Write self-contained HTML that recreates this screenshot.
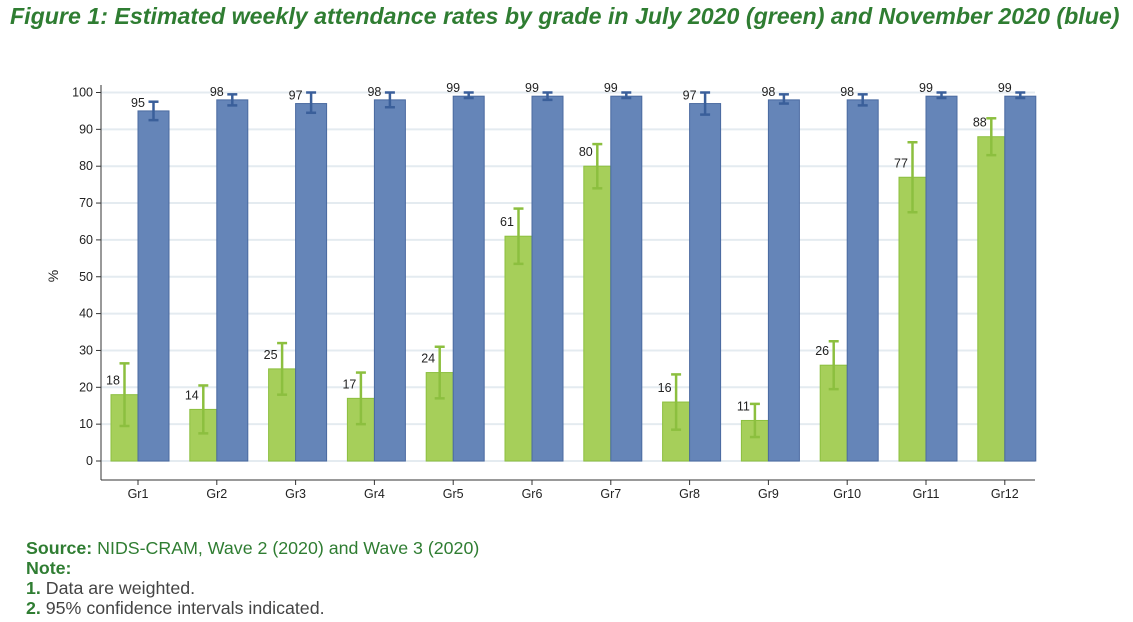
<!DOCTYPE html>
<html><head><meta charset="utf-8"><style>
body{margin:0;background:#fff;font-family:"Liberation Sans",sans-serif;}
#wrap{position:relative;width:1133px;height:622px;overflow:hidden;}
h1{position:absolute;left:10px;top:3px;margin:0;font-size:23.2px;font-style:italic;font-weight:bold;color:#2f7d32;white-space:nowrap;}
.notes{position:absolute;left:26px;top:538px;font-size:17.8px;color:#444;line-height:20px;}
.notes b{color:#2f7d32;}
</style></head><body>
<div id="wrap">
<h1>Figure 1: Estimated weekly attendance rates by grade in July 2020 (green) and November 2020 (blue)</h1>
<svg id="chart" width="1133" height="622" style="position:absolute;left:0;top:0"></svg>
<div class="notes">
<div><b>Source:</b> <span style="color:#2f7d32">NIDS-CRAM, Wave 2 (2020) and Wave 3 (2020)</span></div>
<div><b>Note:</b></div>
<div><b>1.</b> Data are weighted.</div>
<div><b>2.</b> 95% confidence intervals indicated.</div>
</div>
</div>
<script>
const categories=["Gr1","Gr2","Gr3","Gr4","Gr5","Gr6","Gr7","Gr8","Gr9","Gr10","Gr11","Gr12"];
const julyValues=[18,14,25,17,24,61,80,16,11,26,77,88];
const julyLow=[9.5,7.5,18,10,17,53.5,74,8.5,6.5,19.5,67.5,83];
const julyHigh=[26.5,20.5,32,24,31,68.5,86,23.5,15.5,32.5,86.5,93];
const novValues=[95,98,97,98,99,99,99,97,98,98,99,99];
const novLow=[92.5,96.5,94.5,96,98.5,98,98.5,94,97,96.5,98.5,98.5];
const novHigh=[97.5,99.5,100,100,100,100,100,100,99.5,99.5,100,100];
const yTicks=[0,10,20,30,40,50,60,70,80,90,100];

const svg=document.getElementById('chart');
const NS='http://www.w3.org/2000/svg';
function mk(tag,attrs,parent){const e=document.createElementNS(NS,tag);for(const k in attrs)e.setAttribute(k,attrs[k]);(parent||svg).appendChild(e);return e;}
const y0=461,yTop=92.5;
function y(v){return y0-(y0-yTop)*v/100;}
const xStart=138,step=78.8;
function x(i){return xStart+i*step;}
const axisX=101,rightX=1035;

yTicks.forEach(t=>{
  const g=mk('line',{x1:axisX,x2:rightX,y1:y(t),y2:y(t),stroke:'#e4ebf0','stroke-width':2});
  
  
  mk('line',{x1:axisX-5,x2:axisX,y1:y(t),y2:y(t),stroke:'#333'});
  const tx=mk('text',{x:axisX-8,y:y(t)+4,'text-anchor':'end','font-size':12.5,fill:'#222'});
  tx.textContent=t;
  
  
});
const ya=mk('line',{x1:axisX,x2:axisX,y1:85,y2:480,stroke:'#333'});


const xa=mk('line',{x1:axisX,x2:rightX,y1:480,y2:480,stroke:'#333'});


const yt=mk('text',{x:58,y:276,'text-anchor':'middle','font-size':14,fill:'#222',transform:'rotate(-90 58 276)'});
yt.textContent='%';



function errBar(cx,lo,hi,color,cap){
  const g=mk('g',{stroke:color,'stroke-width':2.5});
  mk('line',{x1:cx,x2:cx,y1:y(lo),y2:y(hi)},g);
  mk('line',{x1:cx-cap,x2:cx+cap,y1:y(lo),y2:y(lo)},g);
  mk('line',{x1:cx-cap,x2:cx+cap,y1:y(hi),y2:y(hi)},g);
  return g;
}
categories.forEach((c,i)=>{
  const cx=x(i);
  const gb=mk('rect',{x:cx-27,y:y(julyValues[i]),width:27,height:y0-y(julyValues[i]),fill:'#a6cf5a',stroke:'#8cbf3f'});
  
  
  const bb=mk('rect',{x:cx,y:y(novValues[i]),width:31,height:y0-y(novValues[i]),fill:'#6585b8',stroke:'#4a6aa0'});
  
  
  const e1=errBar(cx-13.5,julyLow[i],julyHigh[i],'#8cbf3f',5);
  
  
  const e2=errBar(cx+15.5,novLow[i],novHigh[i],'#3a5f9a',5);
  
  
  const l1=mk('text',{x:cx-25,y:y(julyValues[i])-10,'text-anchor':'middle','font-size':12.5,fill:'#222'});
  l1.textContent=julyValues[i];
  
  
  const l2=mk('text',{x:cx,y:y(novValues[i])-4,'text-anchor':'middle','font-size':12.5,fill:'#222'});
  l2.textContent=novValues[i];
  
  
  mk('line',{x1:cx,x2:cx,y1:480,y2:485,stroke:'#333'});
  const xl=mk('text',{x:cx,y:498,'text-anchor':'middle','font-size':12.5,fill:'#222'});
  xl.textContent=c;
  
  
});
</script>
</body></html>
